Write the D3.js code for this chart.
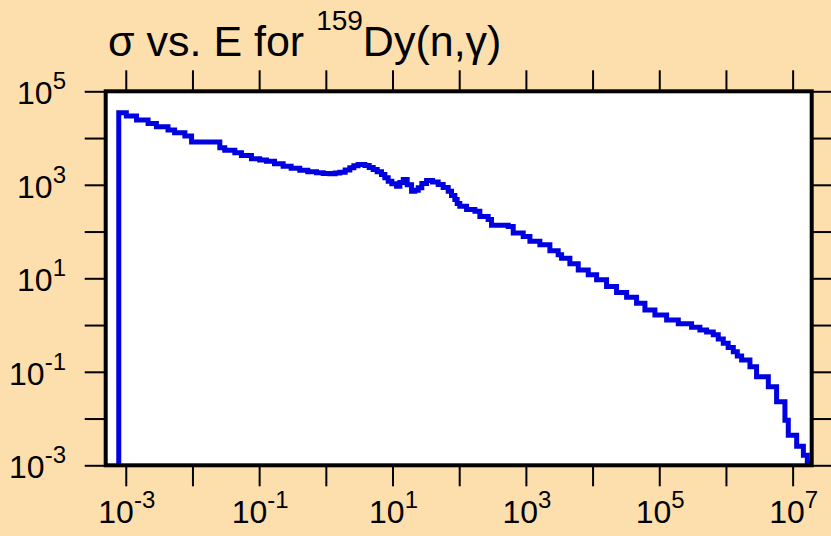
<!DOCTYPE html>
<html>
<head>
<meta charset="utf-8">
<script src="https://cdn.jsdelivr.net/npm/d3@7"></script>
<style>
  html, body { margin: 0; padding: 0; background: #FDDFAE; }
  svg { display: block; }
  text { font-family: "Liberation Sans", Arial, sans-serif; fill: #000; }
</style>
</head>
<body>
<script>
// Energy (eV) at the start of each histogram step, and the cross section (b) over that step
const energy = [7.85e-4, 7.85e-4, 1.02e-3, 1.45e-3, 2.16e-3, 2.88e-3, 4.3e-3, 5.4e-3, 7.7e-3, 9.7e-3,
  0.0257, 0.0305, 0.0432, 0.0543, 0.0767, 0.102, 0.129, 0.17, 0.229, 0.302, 0.407, 0.537, 0.724, 0.912,
  1.15, 1.38, 1.62, 1.95, 2.29, 2.63, 3.05, 3.85, 4.47, 5.13, 5.89, 6.84, 7.67, 8.61, 9.77,
  11.5, 12.9, 14.5, 16.6, 19.3, 21.6, 24.3, 27.5, 32.4, 39.8, 48.4, 57.5, 68.4, 76.7, 86.1, 93.3,
  102, 129, 172, 204, 272, 305, 543, 646, 912, 1150, 1620, 2290, 3050, 3430, 4570, 6100, 8610,
  11500, 16200, 22900, 32400, 45700, 61000, 86100, 1.29e5, 1.93e5, 3.05e5, 4.07e5, 5.13e5, 6.46e5,
  7.67e5, 9.12e5, 1.08e6, 1.29e6, 1.48e6, 1.72e6, 2.29e6, 2.88e6, 4.32e6, 5.75e6, 7.67e6, 8.61e6,
  1.15e7, 1.45e7, 1.66e7, 1.74e7];
const sigma = [1e-3, 34900, 29500, 24300, 20600, 17500, 14800, 13000, 11000, 8200,
  6200, 5500, 4840, 4240, 3600, 3390, 3200, 2820, 2500, 2260, 2050, 1905, 1800, 1740,
  1720, 1780, 1860, 2070, 2310, 2570, 2720, 2590, 2340, 2120, 1900, 1660, 1410, 1190, 1050,
  933, 1120, 1300, 1000, 728, 760, 861, 1070, 1230, 1150, 1010, 871, 728, 589, 482, 398,
  347, 295, 271, 211, 180, 136, 129, 93.3, 78.7, 61.7, 52.5, 38.9, 31.9, 26.9, 20.4, 15.1, 11.9,
  9.29, 6.68, 4.95, 3.95, 2.94, 2.11, 1.65, 1.29, 1.06, 0.898, 0.785, 0.708, 0.617,
  0.501, 0.407, 0.331, 0.269, 0.219, 0.179, 0.129, 0.0783, 0.0479, 0.0229, 0.00923, 0.0044,
  0.00257, 0.00164, 0.00109, 1e-3];

const xTicks = [1e-3, 1e-2, 1e-1, 1, 10, 100, 1e3, 1e4, 1e5, 1e6, 1e7];
const xLabels = [-3, null, -1, null, 1, null, 3, null, 5, null, 7];
const yTicks = [1e-3, 1e-2, 1e-1, 1, 10, 100, 1e3, 1e4, 1e5];
const yLabels = [-3, null, -1, null, 1, null, 3, null, 5];
const titleMain = "σ vs. E for ";
const titleSup = "159";
const titleRest = "Dy(n,γ)";

const W = 831, H = 536;
const L = 105.7, R = 811.7, T = 91.3, B = 465.3;

const svg = d3.select("body").append("svg").attr("width", W).attr("height", H);
svg.append("rect").attr("width", W).attr("height", H).attr("fill", "#FDDFAE");

const x = d3.scaleLog().domain([5e-4, 2e7]).range([L, R + 1]);
const y = d3.scaleLog().domain([1e-3, 1e5]).range([B, T]);

// plot area
svg.append("rect").attr("x", L).attr("y", T).attr("width", R - L).attr("height", B - T).attr("fill", "#fff");

svg.append("clipPath").attr("id", "clip").append("rect")
  .attr("x", L).attr("y", T).attr("width", R - L).attr("height", B - T);

const pts = energy.map((e, i) => [e, sigma[i]]);
const line = d3.line().x(d => x(d[0])).y(d => y(d[1])).curve(d3.curveStepAfter);
svg.append("path").datum(pts).attr("d", line)
  .attr("clip-path", "url(#clip)")
  .attr("fill", "none").attr("stroke", "#0000E0").attr("stroke-width", 5)
  .attr("stroke-linejoin", "miter").attr("stroke-linecap", "square");

// axes (ticks only)
function styleAxis(g) {
  g.select(".domain").remove();
  g.selectAll(".tick line").attr("stroke", "#000").attr("stroke-width", 2);
  g.selectAll(".tick text").remove();
}
svg.append("g").attr("transform", `translate(0,${B})`)
  .call(d3.axisBottom(x).tickValues(xTicks).tickSize(21).tickFormat(() => "")).call(styleAxis);
svg.append("g").attr("transform", `translate(0,${T})`)
  .call(d3.axisTop(x).tickValues(xTicks).tickSize(21).tickFormat(() => "")).call(styleAxis);
svg.append("g").attr("transform", `translate(${L},0)`)
  .call(d3.axisLeft(y).tickValues(yTicks).tickSize(21).tickFormat(() => "")).call(styleAxis);
svg.append("g").attr("transform", `translate(${R},0)`)
  .call(d3.axisRight(y).tickValues(yTicks).tickSize(21).tickFormat(() => "")).call(styleAxis);

// frame
svg.append("rect").attr("x", L).attr("y", T).attr("width", R - L).attr("height", B - T)
  .attr("fill", "none").attr("stroke", "#000").attr("stroke-width", 4);

// tick labels
function powLabel(sel, exp) {
  sel.append("tspan").attr("font-size", 32).text("10");
  sel.append("tspan").attr("font-size", 24).attr("dy", -15).text(exp);
}
xTicks.forEach((v, i) => {
  if (xLabels[i] === null) return;
  const t = svg.append("text").attr("x", x(v) + 1).attr("y", 523).attr("text-anchor", "middle");
  powLabel(t, xLabels[i]);
});
yTicks.forEach((v, i) => {
  if (yLabels[i] === null) return;
  const t = svg.append("text").attr("x", 66).attr("y", y(v) + 13).attr("text-anchor", "end");
  powLabel(t, yLabels[i]);
});

// title
const title = svg.append("text").attr("x", 108).attr("y", 56);
title.append("tspan").attr("font-size", 43).text(titleMain);
title.append("tspan").attr("font-size", 28).attr("dy", -26).text(titleSup);
title.append("tspan").attr("font-size", 43).attr("dy", 26).text(titleRest);
</script>
</body>
</html>
